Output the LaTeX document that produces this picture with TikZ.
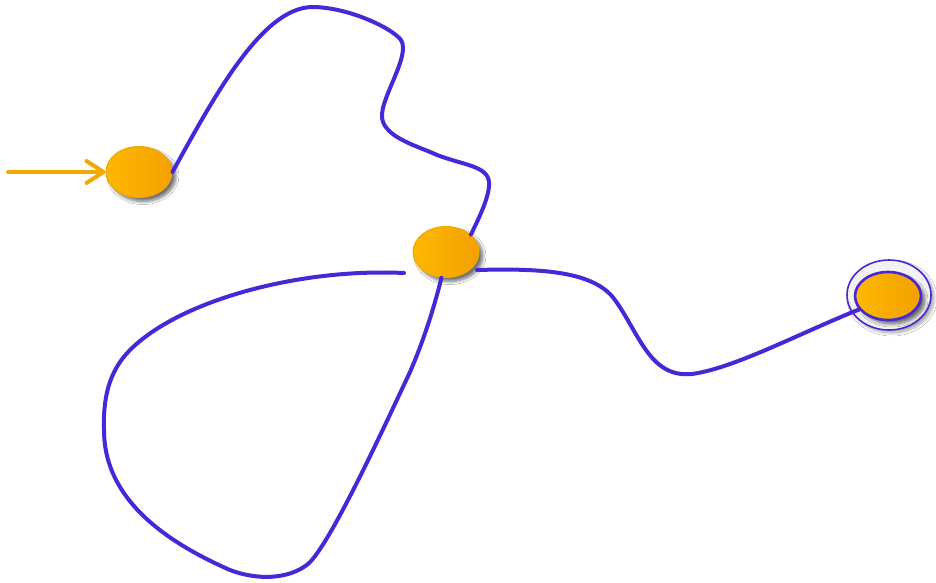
\documentclass[tikz,border=0pt]{standalone}
\usetikzlibrary{shapes.geometric,arrows.meta,shadows.blur,calc}
\definecolor{edgeblue}{RGB}{72,40,214}
\definecolor{orangeA}{RGB}{252,184,0}
\definecolor{orangeB}{RGB}{244,160,0}
\definecolor{stateedge}{RGB}{240,168,0}
\definecolor{arroworange}{RGB}{242,168,0}
\tikzset{
  softshadow/.style={blur shadow={shadow xshift=4pt, shadow yshift=-4pt, shadow blur steps=8,
    shadow blur radius=3pt, shadow opacity=55}},
  state/.style={ellipse, inner sep=0pt, minimum width=66pt, minimum height=51pt,
    left color=orangeA, right color=orangeB, draw=stateedge, line width=1pt, softshadow},
  finalring/.style={ellipse, inner sep=0pt, minimum width=84pt, minimum height=70pt,
    fill=gray!10, draw=edgeblue, line width=1.6pt,
    blur shadow={shadow xshift=3pt, shadow yshift=-3pt, shadow blur steps=8,
      shadow blur radius=3pt, shadow opacity=35}},
  finalstate/.style={ellipse, inner sep=0pt, minimum width=66pt, minimum height=48pt,
    left color=orangeA, right color=orangeB, draw=edgeblue, line width=2.6pt, softshadow},
  trans/.style={draw=edgeblue, line width=4pt, line cap=round},
  startarrow/.style={draw=arroworange, line width=4pt, line cap=round,
    -{Straight Barb[length=17pt, width=22pt, line cap=round, line join=round]}}
}
\begin{document}
\begin{tikzpicture}[x=1pt, y=-1pt]
\useasboundingbox (0,0) rectangle (936,582);
\fill[white] (0,0) rectangle (936,582);

\node[state] (A) at (139,172) {};
\node[state] (B) at (446,252) {};
\node[finalring] (Cout) at (889,295) {};
\node[finalstate] (C) at (888,296) {};

\coordinate (s0) at (8,172);
\coordinate (l1) at ($(B.center)+(-42,21)$);
\coordinate (r1) at ($(B.center)+(31,18)$);

\draw[startarrow] (s0) -- (A.west);

\draw[trans] (A.east) .. controls (215,95) and (262,8) .. (312,7)
  .. controls (348,7) and (392,28) .. (401,40)
  .. controls (411,56) and (380,98) .. (382,118)
  .. controls (385,138) and (418,146) .. (437,155)
  .. controls (466,166) and (491,166) .. (489,186)
  .. controls (488,200) and (478,220) .. (B.35);

\draw[trans] (l1) .. controls (300,268) and (180,300) .. (130,350)
  .. controls (108,372) and (103,400) .. (104,430)
  .. controls (104,490) and (150,535) .. (230,570)
  .. controls (256,580) and (288,580) .. (308,564)
  .. controls (330,545) and (385,425) .. (410,372)
  .. controls (426,335) and (436,300) .. (B.260);

\draw[trans] (r1) .. controls (545,268) and (595,272) .. (615,300)
  .. controls (640,335) and (650,378) .. (692,374)
  .. controls (735,368) and (800,333) .. (C.205);
\end{tikzpicture}
\end{document}
